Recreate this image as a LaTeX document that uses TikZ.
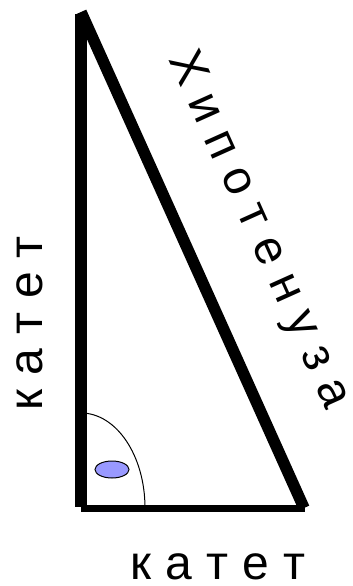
\documentclass[tikz,border=0pt]{standalone}
\usepackage{fontspec}
\setmainfont{Liberation Sans}
\usetikzlibrary{shapes.geometric}
\definecolor{markblue}{RGB}{153,153,255}
\newcommand{\lsp}{\kern14pt}
\begin{document}
\begin{tikzpicture}[x=1pt,y=-1pt,
  leg/.style={line width=11.5pt,line cap=butt},
  baseleg/.style={line width=7.5pt,line cap=butt},
  lbl/.style={inner sep=0pt,font=\fontsize{48pt}{52pt}\selectfont,anchor=base}]
\useasboundingbox (0,0) rectangle (353,586);
\coordinate (A) at (81,12);
\coordinate (Atop) at (81,14);
\coordinate (B) at (81,507);
\coordinate (Bb) at (81,508.5);
\coordinate (Cb) at (305,508.5);
\coordinate (C) at (304,508);
% arc
\draw[line width=1pt] (81,413) arc[start angle=90,end angle=0,x radius=64,y radius=-95];
\draw[leg] (Atop) -- (B);
\draw[baseleg] (Bb) -- (Cb);
\draw[leg] (A) -- (C);
\node[draw=black,line width=1pt,fill=markblue,ellipse,minimum width=34pt,minimum height=17pt,inner sep=0pt] (mark) at (112,469.5) {};
\node[lbl] (bottom) at (218,579) {к\lsp а\lsp т\lsp е\lsp т};
\node[lbl,rotate=90] (left) at (42,323.5) {к\lsp а\lsp т\lsp е\lsp т};
\node[lbl,rotate=-65.8] (hyp) at (247.3,234.9) {Х\lsp и\lsp п\lsp о\lsp т\lsp е\lsp н\lsp у\lsp з\lsp а};
\end{tikzpicture}
\end{document}
